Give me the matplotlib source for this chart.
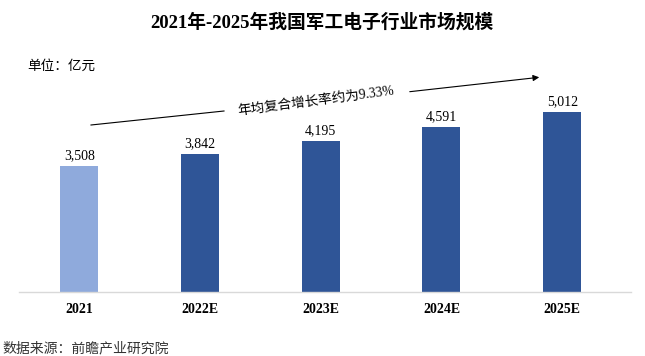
import matplotlib
matplotlib.use("Agg")
import matplotlib.pyplot as plt

plt.rcParams['font.family'] = ['Liberation Serif', 'Noto Sans CJK SC']

# Data
years = ["2021", "2022E", "2023E", "2024E", "2025E"]
values = [3508, 3842, 4195, 4591, 5012]
bar_colors = ["#8faadc", "#2f5597", "#2f5597", "#2f5597", "#2f5597"]

W, H = 645, 356
fig = plt.figure(figsize=(W / 100, H / 100), dpi=100)

# axes placed in pixel terms: x 19..631, baseline at y=292
ax = fig.add_axes([19 / W, (H - 292) / H, 612 / W, 230 / H])
x = range(len(years))
ax.bar(x, values, width=0.315, color=bar_colors)
ax.set_xlim(-0.5, 4.57)
ax.set_ylim(0, 5012 * 230 / 180)

for xi, v in zip(x, values):
    ax.text(xi, v + 120, f"{v:,}", ha="center", va="bottom", fontsize=10)

ax.set_xticks(list(x))
ax.set_xticklabels(years, fontweight="bold", fontsize=10)
ax.tick_params(axis="x", length=0, pad=8)
ax.set_yticks([])
for s in ["top", "right", "left"]:
    ax.spines[s].set_visible(False)
ax.spines["bottom"].set_color("#d9d9d9")
ax.spines["bottom"].set_linewidth(1)


def px(xp, yp):
    return (xp / W, 1 - yp / H)


# title and notes
fig.text(*px(322, 22), "2021年-2025年我国军工电子行业市场规模",
         ha="center", va="center", fontsize=13.5, fontweight="bold")
fig.text(*px(27, 66), "单位：亿元", ha="left", va="center", fontsize=9.8)
fig.text(*px(2, 349), "数据来源：前瞻产业研究院", ha="left", va="center",
         fontsize=10, color="#333333")

# CAGR arrow (broken around the label)
fig.add_artist(plt.Line2D([91 / W, 224 / W], [1 - 125 / H, 1 - 111 / H],
                          color="black", lw=0.8))
fig.add_artist(matplotlib.patches.FancyArrowPatch(
    px(407, 92), px(542, 77), transform=fig.transFigure,
    arrowstyle="-|>", mutation_scale=9, color="black", lw=0.8))
fig.text(*px(316, 101), "年均复合增长率约为9.33%", ha="center", va="center",
         rotation=7.5, fontsize=9.8, rotation_mode="anchor")

fig.savefig("out.png", dpi=100)
